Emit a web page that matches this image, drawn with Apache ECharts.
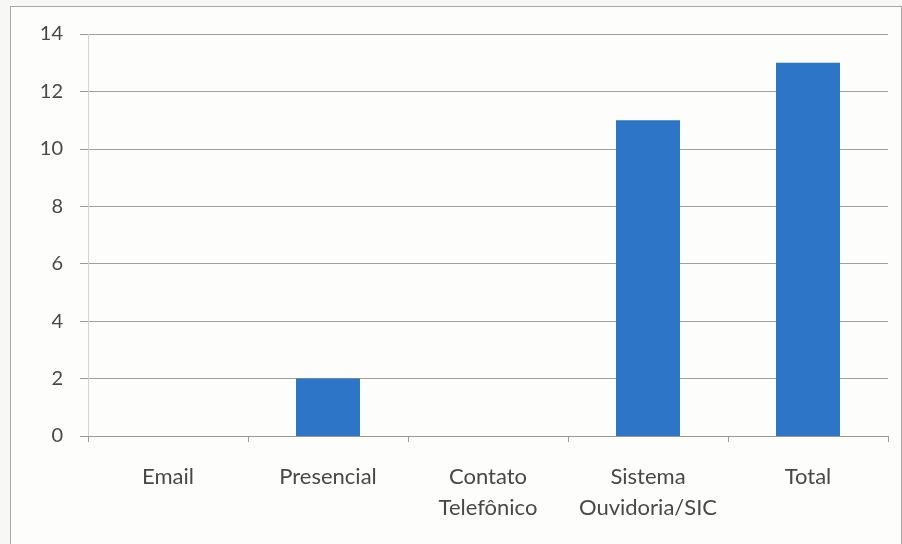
<!DOCTYPE html>
<html>
<head>
<meta charset="utf-8">
<script src="https://cdn.jsdelivr.net/npm/echarts@6/dist/echarts.min.js"></script>
<style>
html,body{margin:0;padding:0;background:#f7f7f5;}
#frame{position:absolute;left:10px;top:6px;width:890px;height:545px;border:1px solid #a8a8a8;background:#fdfdfc;}
#c{position:absolute;left:0;top:0;width:902px;height:544px;}
</style>
</head>
<body>
<div id="frame"></div>
<div id="c"></div>
<script>
var categories = ['Email', 'Presencial', 'Contato\nTelefônico', 'Sistema\nOuvidoria/SIC', 'Total'];
var values = [0, 2, 0, 11, 13];
var yMin = 0, yMax = 14, yStep = 2;

var chart = echarts.init(document.getElementById('c'), null, {renderer: 'canvas'});
chart.setOption({
  backgroundColor: 'transparent',
  animation: false,
  grid: {left: 88, right: 14, top: 34, bottom: 108},
  xAxis: {
    type: 'category',
    data: categories,
    axisLine: {show: true, lineStyle: {color: '#9a9a9a', width: 1}},
    axisTick: {show: true, length: 6, lineStyle: {color: '#9a9a9a'}},
    axisLabel: {color: '#484848', fontFamily: 'Lato', fontSize: 22, margin: 25, lineHeight: 31, interval: 0}
  },
  yAxis: {
    type: 'value',
    min: yMin, max: yMax, interval: yStep,
    axisLine: {show: true, lineStyle: {color: '#d4d4d4'}},
    axisTick: {show: true, length: 8, lineStyle: {color: '#9a9a9a'}},
    axisLabel: {color: '#484848', fontFamily: 'Lato', fontSize: 20, margin: 25},
    splitLine: {show: true, lineStyle: {color: '#a0a0a0', width: 1}}
  },
  series: [{
    type: 'bar',
    data: values,
    barWidth: '40%',
    itemStyle: {color: '#2d75c7'}
  }]
});
</script>
</body>
</html>
